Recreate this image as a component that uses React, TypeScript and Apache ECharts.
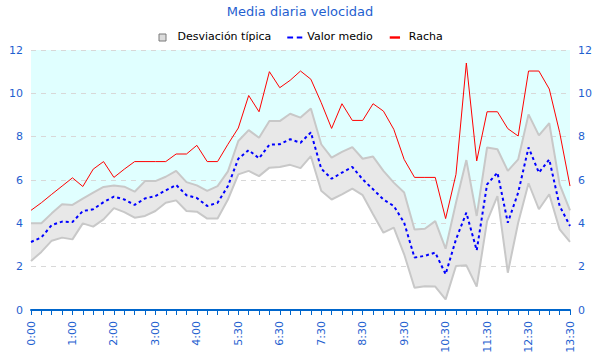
import React, { useEffect, useRef } from "react";
import * as echarts from "echarts";

const times = [
  "0:00", "0:15", "0:30", "0:45", "1:00", "1:15", "1:30", "1:45", "2:00", "2:15", "2:30", "2:45",
  "3:00", "3:15", "3:30", "3:45", "4:00", "4:15", "4:30", "4:45", "5:30", "5:45", "6:00", "6:15",
  "6:30", "6:45", "7:00", "7:15", "7:30", "7:45", "8:00", "8:15", "8:30", "8:45", "9:00", "9:15",
  "9:30", "9:45", "10:00", "10:15", "10:30", "10:45", "11:00", "11:15", "11:30", "11:45", "12:00",
  "12:15", "12:30", "12:45", "13:00", "13:15", "13:30",
];

const gust = [
  4.6, 4.95, 5.34, 5.72, 6.1, 5.7, 6.5, 6.85, 6.12, 6.5, 6.85, 6.85, 6.85, 6.85, 7.2, 7.2, 7.6,
  6.85, 6.85, 7.65, 8.4, 9.9, 9.15, 11.0, 10.26, 10.6, 11.03, 10.65, 9.57, 8.38, 9.52, 8.75, 8.75,
  9.52, 9.18, 8.34, 6.95, 6.12, 6.12, 6.12, 4.22, 6.26, 11.4, 6.88, 9.15, 9.15, 8.37, 8.03, 11.03,
  11.03, 10.2, 8.2, 5.72,
];

const mean = [
  3.14, 3.35, 3.92, 4.08, 4.06, 4.57, 4.65, 4.98, 5.23, 5.1, 4.85, 5.15, 5.26, 5.52, 5.77, 5.3,
  5.17, 4.8, 4.95, 5.72, 6.98, 7.38, 7.0, 7.63, 7.65, 7.88, 7.72, 8.2, 6.52, 6.06, 6.34, 6.6, 6.03,
  5.57, 5.1, 4.8, 4.03, 2.42, 2.5, 2.65, 1.65, 3.26, 4.49, 2.75, 5.8, 6.34, 4.03, 5.42, 7.5, 6.34,
  6.95, 4.8, 3.88,
];

const upper = [
  4.0, 4.0, 4.46, 4.88, 4.85, 5.14, 5.42, 5.68, 5.75, 5.69, 5.46, 5.95, 5.95, 6.15, 6.42, 5.9,
  5.75, 5.5, 5.72, 6.4, 7.8, 8.3, 7.95, 8.72, 8.72, 9.06, 8.88, 9.3, 7.65, 7.03, 7.3, 7.52, 6.98,
  7.08, 6.42, 5.88, 5.42, 3.72, 3.75, 4.1, 2.83, 4.95, 6.92, 4.34, 7.5, 7.42, 6.42, 6.95, 9.03,
  8.06, 8.62, 5.8, 4.6,
];

const lower = [
  2.26, 2.68, 3.2, 3.34, 3.26, 4.0, 3.85, 4.18, 4.7, 4.52, 4.26, 4.34, 4.57, 4.95, 5.06, 4.57,
  4.54, 4.22, 4.22, 5.1, 6.26, 6.42, 6.18, 6.57, 6.6, 6.7, 6.55, 7.1, 5.5, 5.1, 5.34, 5.6, 5.3,
  4.42, 3.57, 3.8, 2.57, 1.03, 1.1, 1.08, 0.49, 2.03, 2.06, 1.08, 4.1, 5.26, 1.72, 4.03, 5.85,
  4.65, 5.34, 3.72, 3.14,
];

const yTicks = { min: 0, max: 12, interval: 2 };

const BLUE_TEXT = "#1f5fd0";
const FONT = "DejaVu Sans";

// legend icons (degenerate sub-paths fix the bounding box to 15x10)
const BOX = " M0,0L0,0 M15,10L15,10";
const ICON_SQUARE = "path://M1.5,2.5H8.5V9.5H1.5Z" + BOX;
const ICON_DASH = "path://M0,5H5.8V7H0Z M9.5,5H15V7H9.5Z" + BOX;
const ICON_LINE = "path://M1,4.8H11.3V7.2H1Z" + BOX;

export default function App() {
  const ref = useRef<HTMLDivElement>(null);

  useEffect(() => {
    if (!ref.current) return;
    const chart = echarts.init(ref.current, undefined, { renderer: "svg" });

    const band = upper.map((u, i) => +(u - lower[i]).toFixed(3));
    const top = upper.map((u) => +(yTicks.max - u).toFixed(3));

    const yAxisBase = {
      type: "value" as const,
      min: yTicks.min,
      max: yTicks.max,
      interval: yTicks.interval,
      axisLine: { show: false },
      axisTick: { show: false },
      axisLabel: { color: BLUE_TEXT, fontSize: 11, fontFamily: FONT, margin: 8 },
    };

    chart.setOption({
      animation: false,
      textStyle: { fontFamily: FONT },
      title: {
        text: "Media diaria velocidad",
        left: "center",
        top: 5,
        padding: 0,
        textStyle: { color: BLUE_TEXT, fontSize: 13, fontWeight: "normal", fontFamily: FONT },
      },
      legend: {
        top: 31,
        left: 157,
        padding: 0,
        itemWidth: 15,
        itemHeight: 10,
        itemGap: 16,
        textStyle: { color: "#000", fontSize: 11, fontFamily: FONT },
        data: [
          {
            name: "Desviación típica",
            icon: ICON_SQUARE,
            itemStyle: { color: "#dcdcdc", borderColor: "#7a7a7a", borderWidth: 1 },
          },
          { name: "Valor medio", icon: ICON_DASH, itemStyle: { color: "#0000ff" } },
          { name: "Racha", icon: ICON_LINE, itemStyle: { color: "#ff0000" } },
        ],
      },
      grid: { left: 31, right: 30, top: 50, bottom: 50, containLabel: false },
      xAxis: {
        type: "category",
        boundaryGap: false,
        data: times,
        z: 4,
        axisLine: { lineStyle: { color: "#0066cc", width: 2 } },
        axisTick: { interval: 0, length: 5, lineStyle: { color: "#0066cc" } },
        axisLabel: {
          interval: 3,
          rotate: 90,
          color: BLUE_TEXT,
          fontSize: 11,
          fontFamily: FONT,
          margin: 11,
        },
        splitLine: { show: false },
      },
      yAxis: [
        {
          ...yAxisBase,
          position: "left",
          z: 1,
          splitLine: { show: true, lineStyle: { color: "#d8d8d8", type: [5, 5] } },
        },
        { ...yAxisBase, position: "right", splitLine: { show: false } },
      ],
      series: [
        {
          name: "base",
          type: "line",
          stack: "sd",
          data: lower,
          symbol: "none",
          lineStyle: { color: "#c8c8c8", width: 2 },
          z: 3,
        },
        {
          name: "Desviación típica",
          type: "line",
          stack: "sd",
          data: band,
          symbol: "none",
          lineStyle: { color: "#c8c8c8", width: 2 },
          itemStyle: { color: "#e8e8e8" },
          areaStyle: { color: "#e8e8e8", opacity: 1 },
          z: 2,
        },
        {
          name: "fondo",
          type: "line",
          stack: "sd",
          data: top,
          symbol: "none",
          lineStyle: { width: 0, opacity: 0 },
          areaStyle: { color: "#e0ffff", opacity: 1 },
          z: 0,
        },
        {
          name: "Valor medio",
          type: "line",
          data: mean,
          symbol: "none",
          itemStyle: { color: "#0000ff" },
          lineStyle: { color: "#0000ff", width: 2, type: [3, 3] },
          z: 5,
        },
        {
          name: "Racha",
          type: "line",
          data: gust,
          symbol: "none",
          itemStyle: { color: "#ff0000" },
          lineStyle: { color: "#ff0000", width: 1 },
          z: 6,
        },
      ],
    });

    return () => chart.dispose();
  }, []);

  return <div ref={ref} style={{ width: 600, height: 360, position: "absolute", left: 0, top: 0 }} />;
}
